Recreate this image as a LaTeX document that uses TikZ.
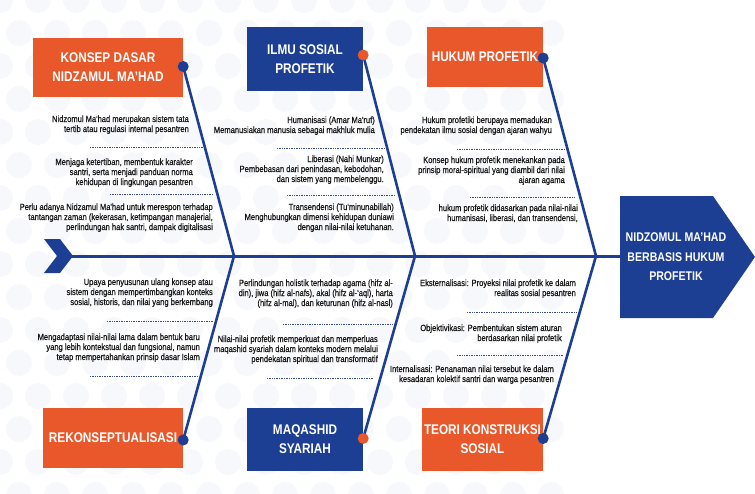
\documentclass[tikz,border=0pt]{standalone}
\usepackage{fontspec}
\setmainfont{Liberation Sans}
\newfontfamily\cond[FakeStretch=0.84]{Liberation Sans}
\newfontfamily\condn[FakeStretch=0.84,FakeBold=0.6]{Liberation Sans}
\definecolor{navy}{HTML}{1C3F94}
\definecolor{orng}{HTML}{E8582B}
\definecolor{dotc}{HTML}{3A4E8C}
\definecolor{bgc}{HTML}{F7F8FB}
\begin{document}
\begin{tikzpicture}[x=1pt,y=-1pt,
  obox/.style={fill=orng, text=white, font=\cond\bfseries\fontsize{14}{19}\selectfont, align=center, inner sep=0pt},
  nbox/.style={fill=navy, text=white, font=\cond\bfseries\fontsize{14}{19}\selectfont, align=center, inner sep=0pt},
  note/.style={anchor=base east, align=right, inner sep=0pt, font=\condn\fontsize{9}{10}\selectfont, text=black!90},
  rib/.style={draw=navy, line width=2.6pt},
  sepline/.style={draw=dotc, line width=1pt, dash pattern=on 1pt off 0.7pt},
  knob/.style={circle, inner sep=0pt, minimum size=11pt}]
\useasboundingbox (0,0) rectangle (755,493);
\fill[white] (0,0) rectangle (755,493);
% faint background pattern
\foreach \r in {0,...,15}{
  \foreach \c in {0,...,14}{
    \pgfmathsetmacro{\xx}{\c*38+mod(\r,2)*19}
    \pgfmathsetmacro{\yy}{\r*33}
    \fill[bgc] (\xx,\yy) circle (13);
  }}
% spine, tail, head
\fill[navy] (44,239) -- (60,239) -- (73,256) -- (60,273) -- (44,273) -- (57,256) -- cycle;
\coordinate (tail) at (70,256);
\coordinate (headin) at (620,256);
\fill[navy] (620,196) -- (713,196) -- (755,257) -- (713,318) -- (620,318) -- cycle;
\node[text=white, font=\cond\bfseries\fontsize{12.6}{19.5}\selectfont, align=center, inner sep=0pt] (head) at (676,257) {NIDZOMUL MA’HAD\\BERBASIS HUKUM\\PROFETIK};
\draw[navy, line width=3pt] (tail) -- (headin);
\coordinate (j1) at (234,256);
\coordinate (j2) at (415,256);
\coordinate (j3) at (596,256);
% boxes
\node[obox, minimum width=150pt, minimum height=59pt] (konsep) at (108,67.5) {KONSEP DASAR\\NIDZAMUL MA’HAD};
\node[nbox, minimum width=116pt, minimum height=64pt] (ilmu) at (305,59) {ILMU SOSIAL\\PROFETIK};
\node[obox, minimum width=116pt, minimum height=60pt] (hukum) at (485,57) {HUKUM PROFETIK};
\node[obox, minimum width=140pt, minimum height=60pt] (rekon) at (113,438) {REKONSEPTUALISASI};
\node[nbox, minimum width=116pt, minimum height=63pt] (maqashid) at (305,439.5) {MAQASHID\\SYARIAH};
\node[obox, minimum width=121pt, minimum height=63pt] (teori) at (482.5,439.5) {TEORI KONSTRUKSI\\SOSIAL};
% ribs
\node[knob] (d1) at ([yshift=1pt]konsep.east) {};
\node[knob] (d2) at ([yshift=4pt]ilmu.east) {};
\node[knob] (d3) at ([yshift=-1pt]hukum.east) {};
\node[knob] (d4) at ([yshift=-2pt]rekon.east) {};
\node[knob] (d5) at ([yshift=1pt]maqashid.east) {};
\node[knob] (d6) at ([yshift=1pt]teori.east) {};
\draw[rib] (d1.center) -- (j1) -- (d4.center);
\draw[rib] (d2.center) -- (j2) -- (d5.center);
\draw[rib] (d3.center) -- (j3) -- (d6.center);
\fill[navy] (d1) circle (5.5);
\fill[orng] (d2) circle (5.5);
\fill[navy] (d3) circle (5.5);
\fill[navy] (d4) circle (5.5);
\fill[orng] (d5) circle (5.5);
\fill[navy] (d6) circle (5.5);
% top-left notes
\node[note] (tl1) at (189,132) {Nidzomul Ma'had merupakan sistem tata\\tertib atau regulasi internal pesantren};
\coordinate (s1a) at (90,147); \coordinate (s1b) at (203,147);
\draw[sepline] (s1a) -- (s1b);
\node[note] (tl2) at (193,185) {Menjaga ketertiban, membentuk karakter\\santri, serta menjadi panduan norma\\kehidupan di lingkungan pesantren};
\coordinate (s2a) at (110,194); \coordinate (s2b) at (213,194);
\draw[sepline] (s2a) -- (s2b);
\node[note] (tl3) at (213,230) {Perlu adanya Nidzamul Ma'had untuk merespon terhadap\\tantangan zaman (kekerasan, ketimpangan manajerial,\\perlindungan hak santri, dampak digitalisasi};
% top-middle notes
\node[note] (tm1) at (375,133) {Humanisasi (Amar Ma'ruf)\\Memanusiakan manusia sebagai makhluk mulia};
\coordinate (s3a) at (277,148); \coordinate (s3b) at (387,148);
\draw[sepline] (s3a) -- (s3b);
\node[note] (tm2) at (384,182) {Liberasi (Nahi Munkar)\\Pembebasan dari penindasan, kebodohan,\\dan sistem yang membelenggu.};
\coordinate (s4a) at (287,195); \coordinate (s4b) at (395,195);
\draw[sepline] (s4a) -- (s4b);
\node[note] (tm3) at (394,230) {Transendensi (Tu'minunabillah)\\Menghubungkan dimensi kehidupan duniawi\\dengan nilai-nilai ketuhanan.};
% top-right notes
\node[note] (tr1) at (552,133) {Hukum profetiki berupaya memadukan\\pendekatan ilmu sosial dengan ajaran wahyu};
\coordinate (s5a) at (457,149); \coordinate (s5b) at (566,149);
\draw[sepline] (s5a) -- (s5b);
\node[note] (tr2) at (565,183) {Konsep hukum profetik menekankan pada\\prinsip moral-spiritual yang diambil dari nilai\\ajaran agama};
\coordinate (s6a) at (470,197); \coordinate (s6b) at (575,197);
\draw[sepline] (s6a) -- (s6b);
\node[note] (tr3) at (578,221) {hukum profetik didasarkan pada nilai-nilai\\humanisasi, liberasi, dan transendensi,};
% bottom-left notes
\node[note] (bl1) at (213,305) {Upaya penyusunan ulang konsep atau\\sistem dengan mempertimbangkan konteks\\sosial, historis, dan nilai yang berkembang};
\coordinate (s7a) at (107,321); \coordinate (s7b) at (213,321);
\draw[sepline] (s7a) -- (s7b);
\node[note] (bl2) at (200,360) {Mengadaptasi nilai-nilai lama dalam bentuk baru\\yang lebih kontekstual dan fungsional, namun\\tetap mempertahankan prinsip dasar Islam};
\coordinate (s8a) at (90,376); \coordinate (s8b) at (198,376);
\draw[sepline] (s8a) -- (s8b);
% bottom-middle notes
\node[note] (bm1) at (393,306) {Perlindungan holistik terhadap agama (hifz al-\\din), jiwa (hifz al-nafs), akal (hifz al-‘aql), harta\\(hifz al-mal), dan keturunan (hifz al-nasl)};
\coordinate (s9a) at (283,324); \coordinate (s9b) at (393,324);
\draw[sepline] (s9a) -- (s9b);
\node[note] (bm2) at (378,362) {Nilai-nilai profetik memperkuat dan memperluas\\maqashid syariah dalam konteks modern melalui\\pendekatan spiritual dan transformatif};
\coordinate (s10a) at (267,378); \coordinate (s10b) at (373,378);
\draw[sepline] (s10a) -- (s10b);
% bottom-right notes
\node[note] (br1) at (576,296) {Eksternalisasi: Proyeksi nilai profetik ke dalam\\realitas sosial pesantren};
\coordinate (s11a) at (467,312); \coordinate (s11b) at (576,312);
\draw[sepline] (s11a) -- (s11b);
\node[note] (br2) at (562,341) {Objektivikasi: Pembentukan sistem aturan\\berdasarkan nilai profetik};
\coordinate (s12a) at (457,355); \coordinate (s12b) at (564,355);
\draw[sepline] (s12a) -- (s12b);
\node[note] (br3) at (554,382) {Internalisasi: Penanaman nilai tersebut ke dalam\\kesadaran kolektif santri dan warga pesantren};
\end{tikzpicture}
\end{document}
